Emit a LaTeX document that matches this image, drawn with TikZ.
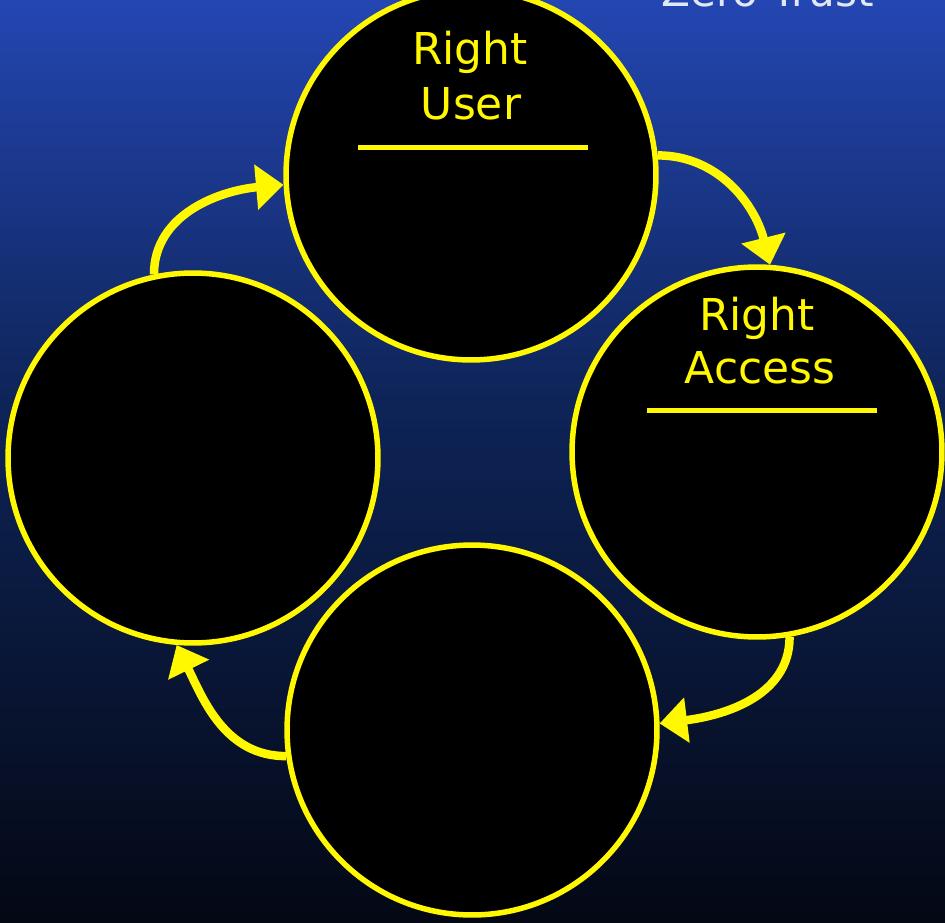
\documentclass[tikz,border=0pt]{standalone}
\usepackage{fontspec}
\setmainfont{DejaVu Sans}
\usetikzlibrary{arrows.meta}
\definecolor{ztyellow}{RGB}{255,248,0}
\definecolor{ztwhite}{RGB}{225,232,245}
\definecolor{bgtop}{RGB}{36,70,178}
\definecolor{bgmid}{RGB}{14,36,88}
\definecolor{bgbot}{RGB}{4,8,20}
\begin{document}
\begin{tikzpicture}[x=0.02cm, y=-0.02cm,
  stage/.style={circle, draw=ztyellow, fill=black, line width=0.11cm, minimum size=7.4cm, inner sep=0pt},
  flow/.style={draw=ztyellow, line width=0.17cm, -{Triangle[length=0.55cm,width=0.88cm]}},
  lbl/.style={text=ztyellow, font=\fontsize{25}{31}\selectfont, anchor=base}]
\clip (0,0) rectangle (945,922);
\shade[top color=bgtop, bottom color=bgmid] (0,0) rectangle (945,400);
\shade[top color=bgmid, bottom color=bgbot] (0,400) rectangle (945,922);
\node[text=ztwhite, font=\fontsize{24}{28}\selectfont, anchor=base east] (title) at (880,7) {Zero Trust};
% the four stages
\node[stage] (ctop) at (471,175) {};
\node[stage] (cright) at (757,452) {};
\node[stage] (cbottom) at (472,730) {};
\node[stage] (cleft) at (193,458) {};
\node[lbl] (tR) at (470,65) {Right};
\node[lbl] (tU) at (471,120) {User};
\draw[ztyellow, line width=0.1cm] (358,148) -- (588,148);
\node[lbl] (aR) at (757,330) {Right};
\node[lbl] (aA) at (760,383) {Access};
\draw[ztyellow, line width=0.1cm] (647,410) -- (877,410);
% cycle arrows
\draw[flow] (ctop.6) to[out=0,in=104] (cright.86);
\draw[flow] (cright.-80) to[out=-90,in=7] (cbottom.2);
\draw[flow] (cbottom.188) to[out=180,in=-64] (cleft.-95);
\draw[flow] (cleft.102) to[out=90,in=185] (ctop.183);
\end{tikzpicture}
\end{document}
